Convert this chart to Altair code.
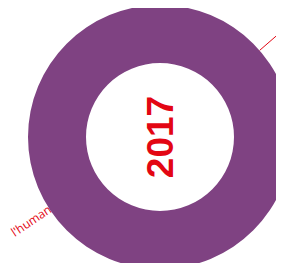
import altair as alt
import pandas as pd

# ---- data ----
ring_year = ["2017"]
ring_share = [100]
leader_angle = [49]          # degrees, clockwise from 12 o'clock
outside_label = ["l'human"]
outside_label_angle = [237]  # degrees, clockwise from 12 o'clock

PURPLE = "#7f4282"
RED = "#e30613"
OUTER, INNER = 132, 74
W, H = 268, 255

xs = alt.Scale(domain=[-152, W - 152], nice=False, zero=False)
ys = alt.Scale(domain=[129 - H, 129], nice=False, zero=False)

ring_df = pd.DataFrame({"year": ring_year, "share": ring_share})
leader_df = pd.DataFrame({"angle": leader_angle})
label_df = pd.DataFrame({"label": outside_label, "angle": outside_label_angle})

leader = (
    alt.Chart(leader_df)
    .transform_calculate(
        x=f"{OUTER} * sin(datum.angle * PI / 180)",
        y=f"{OUTER} * cos(datum.angle * PI / 180)",
        x2=f"260 * sin(datum.angle * PI / 180)",
        y2=f"260 * cos(datum.angle * PI / 180)",
    )
    .mark_rule(color=RED, strokeWidth=1)
    .encode(
        x=alt.X("x:Q", scale=xs, axis=None),
        y=alt.Y("y:Q", scale=ys, axis=None),
        x2="x2:Q",
        y2="y2:Q",
    )
)

label = (
    alt.Chart(label_df)
    .transform_calculate(
        x=f"131 * sin(datum.angle * PI / 180)",
        y=f"131 * cos(datum.angle * PI / 180)",
    )
    .mark_text(align="right", baseline="middle", angle=326, fontSize=12,
               font="Open Sans", color=RED)
    .encode(
        x=alt.X("x:Q", scale=xs, axis=None),
        y=alt.Y("y:Q", scale=ys, axis=None),
        text="label:N",
    )
)

ring = (
    alt.Chart(ring_df)
    .mark_arc(radius=OUTER, radius2=INNER, color=PURPLE, stroke=None)
    .encode(
        theta=alt.Theta("share:Q"),
        x=alt.X(datum=0, scale=xs, axis=None),
        y=alt.Y(datum=0, scale=ys, axis=None),
    )
)

year = (
    alt.Chart(ring_df)
    .mark_text(angle=270, baseline="middle", align="center", fontSize=37,
               font="Liberation Sans", fontWeight="bold", color=RED, dy=2)
    .encode(
        x=alt.X(datum=0, scale=xs, axis=None),
        y=alt.Y(datum=0, scale=ys, axis=None),
        text="year:N",
    )
)

chart = (
    alt.layer(leader, label, ring, year)
    .properties(width=W, height=H, padding=0, autosize="none", background="white")
    .configure_view(stroke=None)
)

chart.save("out.html", embed_options={"renderer": "svg", "actions": False})
